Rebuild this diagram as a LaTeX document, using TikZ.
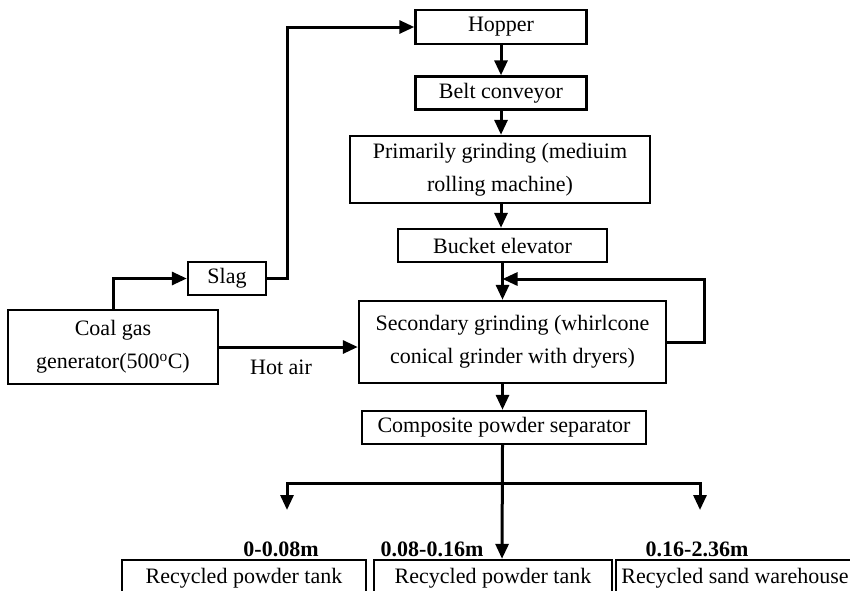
\documentclass[tikz,border=0pt]{standalone}
\usepackage{fontspec}
\setmainfont{Liberation Serif}
\usetikzlibrary{arrows.meta}
\begin{document}
\begin{tikzpicture}[x=1pt,y=-1pt,
  box/.style={draw, line width=2.4pt, rectangle, inner sep=0pt, align=center,
              font=\fontsize{22}{33}\selectfont},
  flow/.style={line width=3pt, -{Triangle[length=15pt,width=13pt]}},
  tag/.style={font=\fontsize{22}{26}\selectfont\bfseries},
  plain/.style={font=\fontsize{22}{26}\selectfont}]
\useasboundingbox (0,0) rectangle (850,590);
\clip (0,0) rectangle (850,590);

% process column
\node[box, minimum width=171pt, minimum height=34pt] (hop)  at (501,27)    {Hopper};
\node[box, minimum width=171pt, minimum height=33pt] (belt) at (501,93)    {Belt conveyor};
\node[box, minimum width=300pt, minimum height=67pt] (prim) at (500,169.5) {Primarily grinding (mediuim\\rolling machine)};
\node[box, minimum width=209pt, minimum height=33pt] (buck) at (502.5,245.5) {Bucket elevator};
\node[box, minimum width=307pt, minimum height=82pt] (sec)  at (512.5,342) {Secondary grinding (whirlcone\\conical grinder with dryers)};
\node[box, minimum width=284pt, minimum height=33pt] (sep)  at (504,427.5) {Composite powder separator};

% heat source and slag
\node[box, minimum width=210pt, minimum height=74pt] (coal) at (113,347)   {Coal gas\\generator(500\textsuperscript{o}C)};
\node[box, minimum width=78pt,  minimum height=33pt] (slag) at (227,278.5) {Slag};
\node[plain] (hot) at (281,367) {Hot air};

% outputs
\node[box, minimum width=244pt, minimum height=36pt] (tank1) at (244,578) {Recycled powder tank};
\node[box, minimum width=238pt, minimum height=36pt] (tank2) at (493,578) {Recycled powder tank};
\node[box, minimum width=238pt, minimum height=36pt] (tank3) at (735,578) {Recycled sand warehouse};
\node[tag] (g1) at (281,549) {0-0.08m};
\node[tag] (g2) at (432,549) {0.08-0.16m};
\node[tag] (g3) at (697,549) {0.16-2.36m};

% main flow
\draw[flow] (hop.south) -- (hop.south |- belt.north);
\draw[flow] (belt.south) -- (belt.south |- prim.north);
\draw[flow] (belt.south |- prim.south) -- (belt.south |- buck.north);
\draw[flow] (buck.south) -- (buck.south |- sec.north);
\draw[flow] (buck.south |- sec.south) -- (buck.south |- sep.north);

% slag return to the hopper
\coordinate (riser) at (287,27);
\draw[flow] (coal.north) |- (slag.west);
\draw[flow] (slag.east) -| (riser) -- (hop.west);

% hot air feed
\draw[flow] (coal.east) -- (coal.east -| sec.west);

% recirculation loop
\coordinate (loop) at (704,279);
\draw[flow] (sec.east) -| (loop) -- (loop -| buck.south);

% separator split
\coordinate (sx) at (502,483);
\coordinate (lt) at (287,510);
\coordinate (rt) at (700,510);
\draw[flow] (buck.south |- sep.south) -- (sx |- tank2.north);
\draw[flow] (sx) -| (lt);
\draw[flow] (sx) -| (rt);
\end{tikzpicture}
\end{document}
